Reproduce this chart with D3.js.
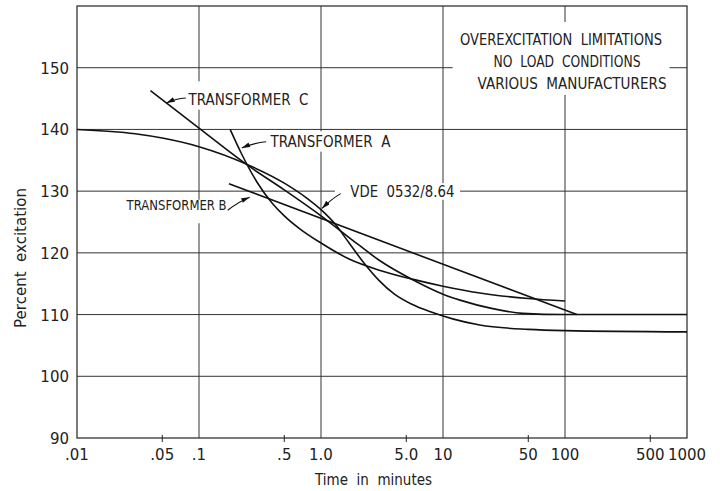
<!DOCTYPE html>
<html>
<head>
<meta charset="utf-8">
<script src="https://cdn.jsdelivr.net/npm/d3@7"></script>
<style>
  body { margin: 0; background: #fff; }
  svg text { font-family: "DejaVu Sans", sans-serif; fill: #222; }
</style>
</head>
<body>
<svg id="chart" width="720" height="491"></svg>
<script>
// 軸の目盛り
var xTicks = [.01, .05, .1, .5, 1, 5, 10, 50, 100, 500, 1000];
var xTickLabels = [".01", ".05", ".1", ".5", "1.0", "5.0", "10", "50", "100", "500", "1000"];
var xGrid = [.1, 1, 10, 100];
var xMinor = [.05, .5, 5, 50, 500];
var yTicks = [90, 100, 110, 120, 130, 140, 150];

// 曲線データ（時間[min], 励磁[%]）
var vdeTime = [.01, .03, .05, .1, .25, .5, .75, 1, 1.3, 1.7, 2.2, 3, 4, 5.5, 8, 12, 20, 50, 100, 1000];
var vdePct  = [140, 139.3, 138.6, 137.2, 134.3, 131.3, 129.0, 127.0, 124.7, 121.6, 118.6, 115.5, 113.3, 111.7, 110.4, 109.3, 108.3, 107.6, 107.4, 107.2];

var cTime = [.04, .1, .25, .5, 1, 2, 3, 5.7, 10, 14, 25, 45, 100, 1000];
var cPct  = [146.3, 140.2, 134.2, 130.2, 126, 121.4, 118.8, 115.6, 113.3, 112.3, 111, 110.2, 110, 110];

var aTime = [.18, .22, .3, .4, .5, .67, 1, 1.7, 3, 5.7, 10, 20, 50, 100];
var aPct  = [140, 136.3, 131.4, 128, 126, 123.9, 121.6, 119, 117.2, 115.7, 114.6, 113.5, 112.6, 112.2];

var bTime = [.176, 125];
var bPct  = [131.2, 110];

var titleLines = ["OVEREXCITATION  LIMITATIONS", "NO  LOAD  CONDITIONS", "VARIOUS  MANUFACTURERS"];

var svg = d3.select("#chart");
var margin = {left: 77, right: 33, top: 6, bottom: 53};
var W = 720, H = 491;

var x = d3.scaleLog().domain([.01, 1000]).range([margin.left, W - margin.right]);
var y = d3.scaleLinear().domain([90, 160]).range([H - margin.bottom, margin.top]);

var gridColor = "#333";

// グリッド
svg.append("g").selectAll("line").data(yTicks.slice(1)).enter().append("line")
    .attr("x1", x(.01)).attr("x2", x(1000))
    .attr("y1", function(d){ return y(d); }).attr("y2", function(d){ return y(d); })
    .attr("stroke", gridColor).attr("stroke-width", 1);
svg.append("g").selectAll("line").data(xGrid).enter().append("line")
    .attr("x1", function(d){ return x(d); }).attr("x2", function(d){ return x(d); })
    .attr("y1", y(90)).attr("y2", y(160))
    .attr("stroke", gridColor).attr("stroke-width", 1);

// ラベルの下のグリッドを白で消す [t0, p0, t1, p1]
var masks = [
    [.075, 147.8, .78, 143.2],   // transformer C
    [.37, 139.7, 2.3, 136.4],    // transformer A
    [.025, 128.6, .165, 124.8],  // transformer B
    [1.3, 131.3, 13.8, 128.6],   // VDE
    [12, 157.4, 720, 145.6]      // title
];
svg.append("g").selectAll("rect").data(masks).enter().append("rect")
    .attr("x", function(d){ return x(d[0]); })
    .attr("y", function(d){ return y(d[1]); })
    .attr("width", function(d){ return x(d[2]) - x(d[0]); })
    .attr("height", function(d){ return y(d[3]) - y(d[1]); })
    .attr("fill", "#fff");

// 枠
svg.append("rect")
    .attr("x", x(.01)).attr("y", y(160))
    .attr("width", x(1000) - x(.01)).attr("height", y(90) - y(160))
    .attr("fill", "none").attr("stroke", "#222").attr("stroke-width", 1.2);

// 下の小目盛り
svg.append("g").selectAll("line").data(xMinor).enter().append("line")
    .attr("x1", function(d){ return x(d); }).attr("x2", function(d){ return x(d); })
    .attr("y1", y(90) - 3).attr("y2", y(90) + 4)
    .attr("stroke", "#222").attr("stroke-width", 1);

// 目盛りラベル
svg.append("g").selectAll("text").data(xTicks).enter().append("text")
    .attr("x", function(d){ return x(d); })
    .attr("y", y(90) + 22)
    .attr("text-anchor", "middle")
    .attr("font-size", 15)
    .text(function(d, i){ return xTickLabels[i]; });
svg.append("g").selectAll("text").data(yTicks).enter().append("text")
    .attr("x", margin.left - 8)
    .attr("y", function(d){ return y(d) + 6; })
    .attr("text-anchor", "end")
    .attr("font-size", 15)
    .text(function(d){ return d; });

// 軸タイトル
svg.append("text")
    .attr("x", 315).attr("y", 485)
    .attr("font-size", 15)
    .attr("xml:space", "preserve")
    .attr("textLength", 117).attr("lengthAdjust", "spacingAndGlyphs")
    .text("Time  in  minutes");
svg.append("text")
    .attr("transform", "translate(26,258) rotate(-90)")
    .attr("text-anchor", "middle").attr("font-size", 15)
    .attr("xml:space", "preserve")
    .text("Percent  excitation");

// 曲線
var line = d3.line()
    .x(function(d){ return x(d[0]); })
    .y(function(d){ return y(d[1]); })
    .curve(d3.curveMonotoneX);

var series = [
    d3.zip(vdeTime, vdePct),
    d3.zip(cTime, cPct),
    d3.zip(aTime, aPct),
    d3.zip(bTime, bPct)
];
svg.append("g").selectAll("path").data(series).enter().append("path")
    .attr("d", line)
    .attr("fill", "none")
    .attr("stroke", "#111")
    .attr("stroke-width", 1.6);

// 矢印
svg.append("defs").append("marker")
    .attr("id", "arrowhead")
    .attr("viewBox", "0 0 10 6")
    .attr("refX", 10).attr("refY", 3)
    .attr("markerWidth", 9).attr("markerHeight", 5)
    .attr("markerUnits", "userSpaceOnUse")
    .attr("orient", "auto")
    .append("path")
    .attr("d", "M0,0 L10,3 L0,6 Z")
    .attr("fill", "#111");

// [from time, from pct, to time, to pct]
var leaders = [
    [.078, 145.1, .054, 144.3],
    [.355, 138.0, .224, 137.0],
    [.172, 126.9, .26, 129.0],
    [1.45, 129.6, 1.02, 127.2]
];
svg.append("g").selectAll("path").data(leaders).enter().append("path")
    .attr("d", function(d){
        var x0 = x(d[0]), y0 = y(d[1]), x1 = x(d[2]), y1 = y(d[3]);
        var mx = (x0 + x1) / 2, my = (y0 + y1) / 2 - 2;
        return "M" + x0 + "," + y0 + " Q" + mx + "," + my + " " + x1 + "," + y1;
    })
    .attr("fill", "none").attr("stroke", "#111").attr("stroke-width", 1.1)
    .attr("marker-end", "url(#arrowhead)");

// 曲線ラベル [text, time, pct, width, size]
var labels = [
    ["TRANSFORMER  C", .082, 144.0, 120, 15],
    ["TRANSFORMER  A", .385, 137.2, 120, 15],
    ["TRANSFORMER B", .0255, 126.9, 100, 14.5],
    ["VDE  0532/8.64", 1.74, 129.0, 104, 15]
];
svg.append("g").selectAll("text").data(labels).enter().append("text")
    .attr("x", function(d){ return x(d[1]); })
    .attr("y", function(d){ return y(d[2]); })
    .attr("font-size", function(d){ return d[4]; })
    .attr("xml:space", "preserve")
    .attr("textLength", function(d){ return d[3]; })
    .attr("lengthAdjust", "spacingAndGlyphs")
    .text(function(d){ return d[0]; });

// タイトル
var titleX = [561, 567, 572], titleW = [202, 147, 189], titleY = [45, 67, 89];
svg.append("g").selectAll("text").data(titleLines).enter().append("text")
    .attr("x", function(d, i){ return titleX[i] - titleW[i] / 2; })
    .attr("y", function(d, i){ return titleY[i]; })
    .attr("font-size", 15)
    .attr("xml:space", "preserve")
    .attr("textLength", function(d, i){ return titleW[i]; })
    .attr("lengthAdjust", "spacingAndGlyphs")
    .text(function(d){ return d; });
</script>
</body>
</html>
